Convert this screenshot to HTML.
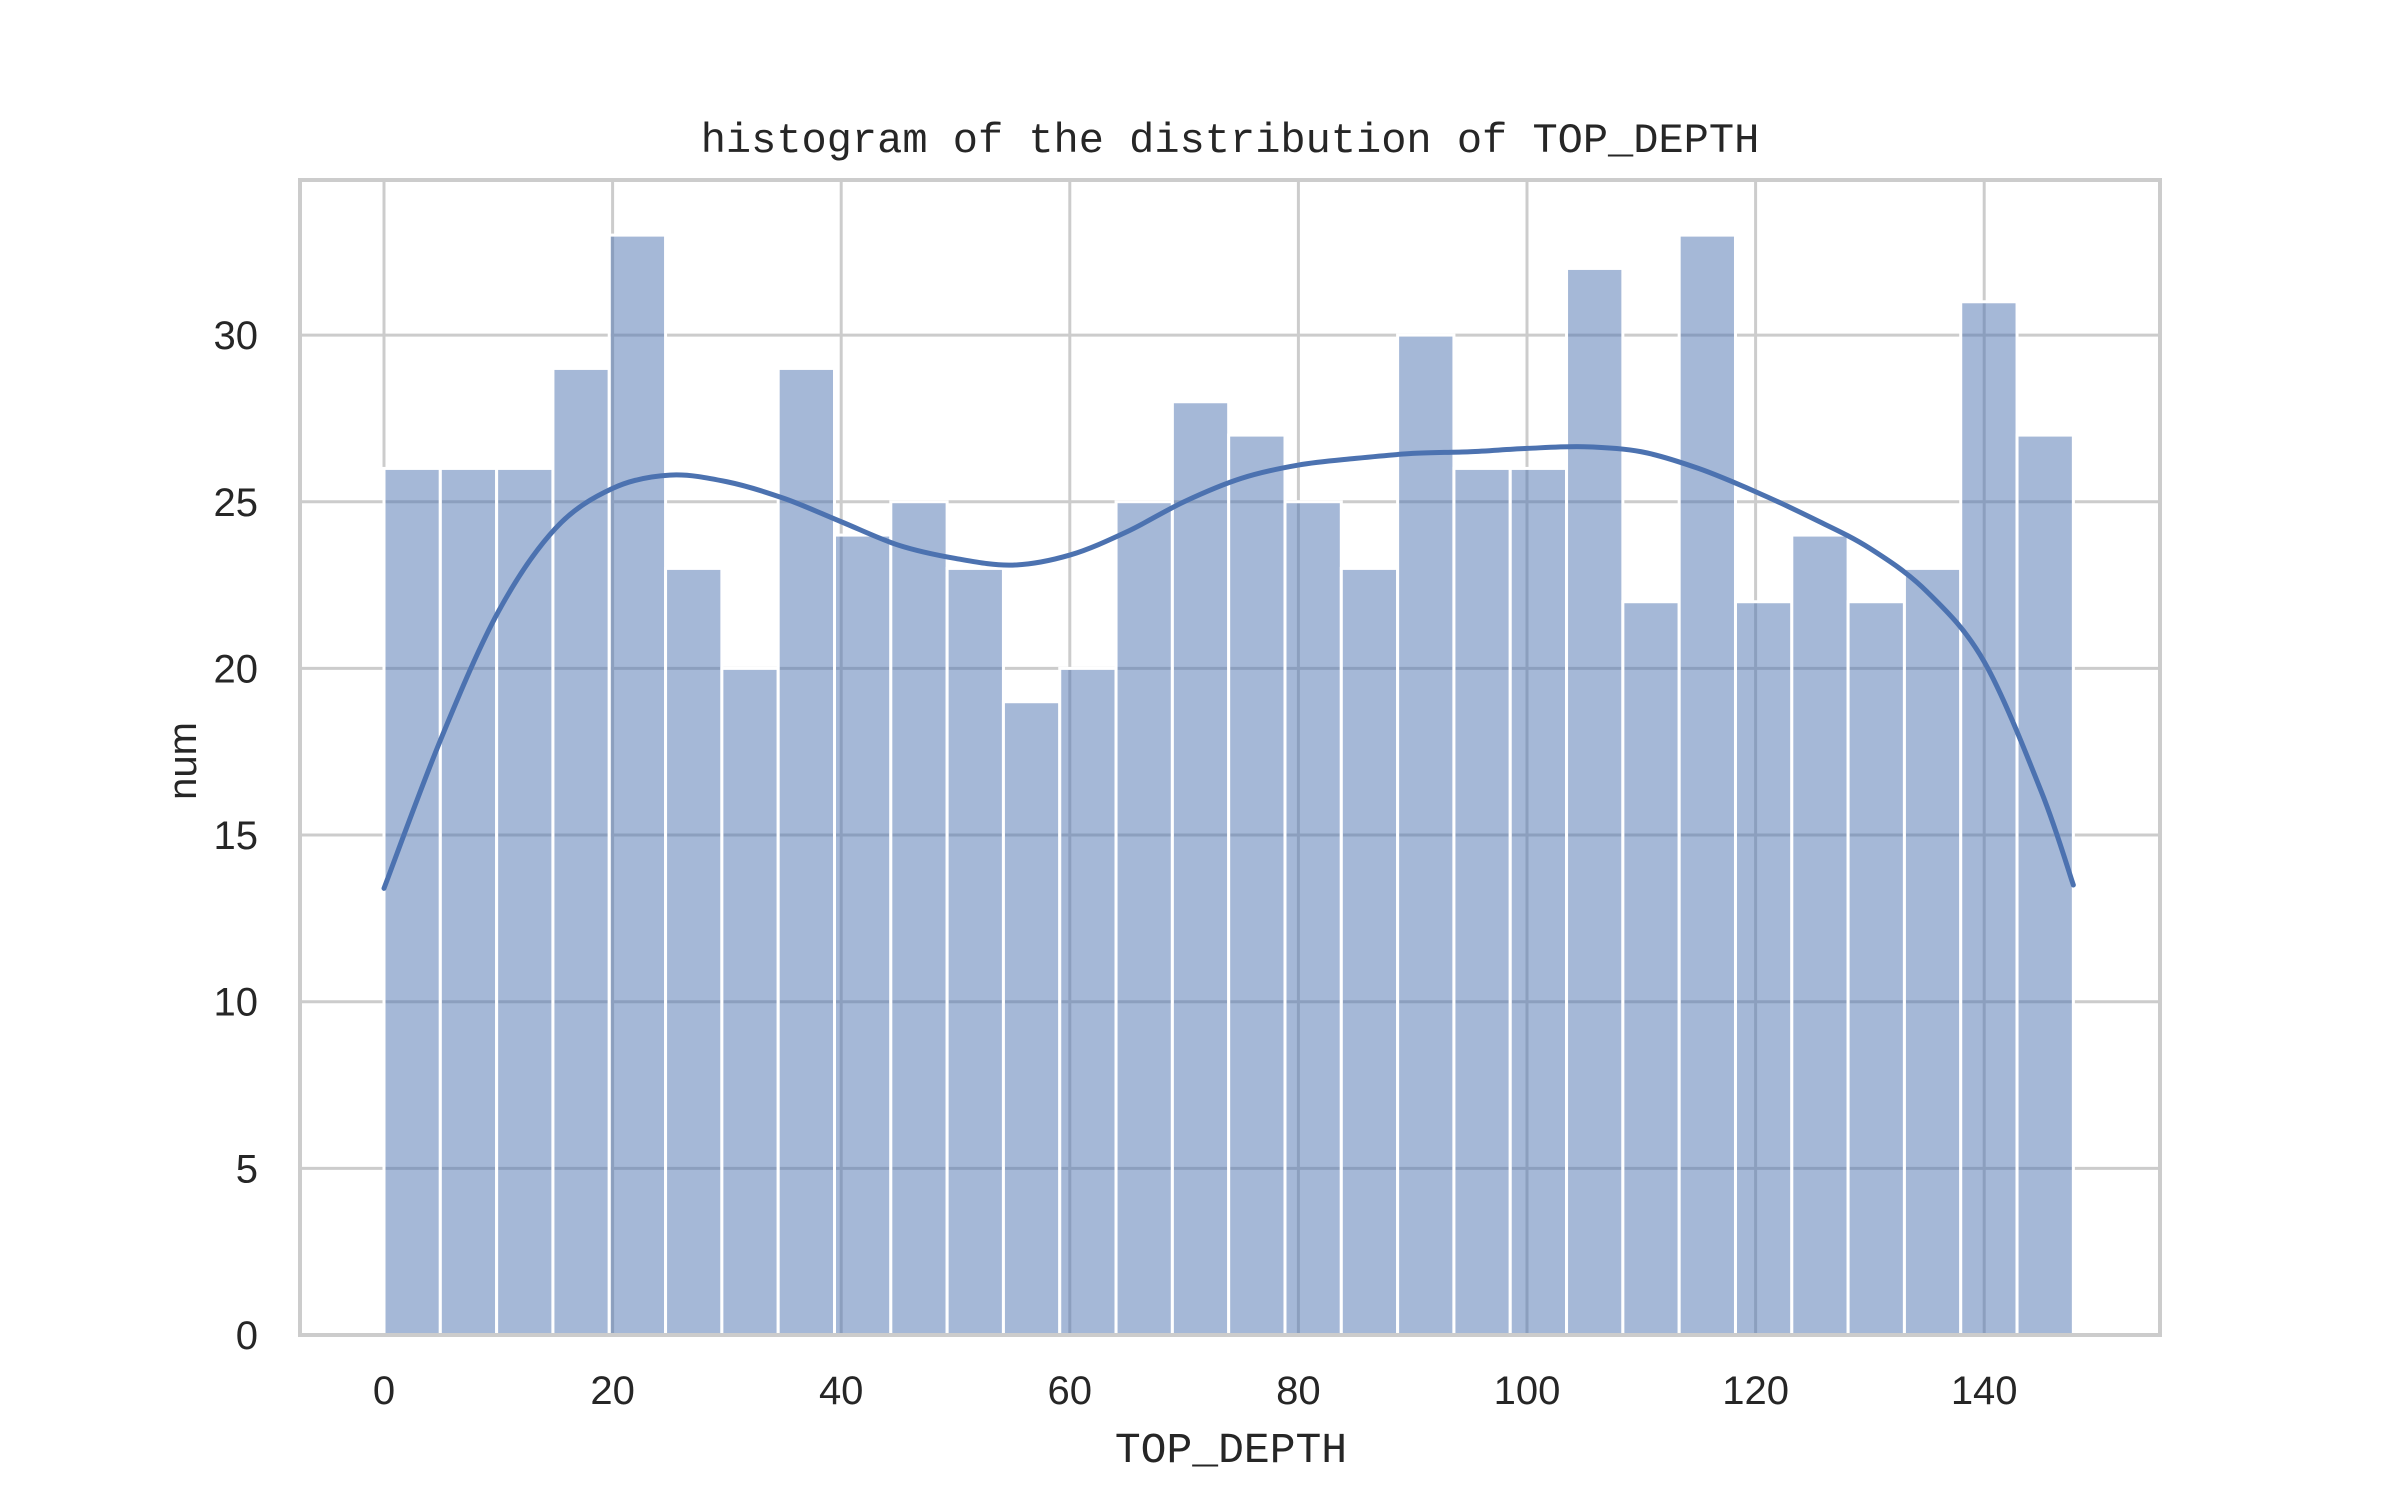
<!DOCTYPE html>
<html><head><meta charset="utf-8"><style>
body{margin:0;background:#fff}
svg text{font-family:"Liberation Sans","WenQuanYi Zen Hei",sans-serif;fill:#262626}
</style></head><body>
<svg width="2400" height="1500" viewBox="0 0 2400 1500">
<g id="grid"></g><g id="bars"></g><path id="kde" fill="none" stroke="#4c72b0" stroke-width="5" stroke-linejoin="round" stroke-linecap="round"/>
<rect x="300" y="180" width="1860" height="1155" fill="none" stroke="#cccccc" stroke-width="4"/>
<g id="ticks"></g>
<text x="1230" y="152" text-anchor="middle" font-size="42" style="font-family:'Liberation Mono',monospace">histogram of the distribution of TOP_DEPTH</text>
<text x="1231" y="1462" text-anchor="middle" font-size="43" style="font-family:'Liberation Mono',monospace">TOP_DEPTH</text>
<text transform="translate(196,761) rotate(-90)" text-anchor="middle" font-size="40">num</text>
</svg>
<script>
const counts=[26,26,26,29,33,23,20,29,24,25,23,19,20,25,28,27,25,23,30,26,26,32,22,33,22,24,22,23,31,27];
const binStart=0, binEnd=147.8;
const kdeX=[0,5,10,15,20,25,30,35,40,45,50,55,60,65,70,75,80,85,90,95,100,105,110,115,120,125,130,135,140,145,147.8];
const kdeY=[13.4,17.9,21.7,24.2,25.4,25.8,25.6,25.1,24.4,23.7,23.3,23.1,23.4,24.1,25,25.7,26.1,26.3,26.45,26.5,26.6,26.65,26.5,26,25.3,24.5,23.6,22.3,20.2,16.3,13.5];
const xTicks=[0,20,40,60,80,100,120,140];
const yTicks=[0,5,10,15,20,25,30];
const NS="http://www.w3.org/2000/svg";
const X=v=>384+v*11.43, Y=v=>1335-v*33.33;
function mk(t,p,a){const e=document.createElementNS(NS,t);for(const k in a)e.setAttribute(k,a[k]);p.appendChild(e);return e;}
const g=document.getElementById('grid'),b=document.getElementById('bars'),tk=document.getElementById('ticks');
xTicks.forEach(v=>{const l=mk('line',g,{x1:X(v),x2:X(v),y1:180,y2:1335,stroke:'#cccccc','stroke-width':3});


const t=mk('text',tk,{x:X(v),y:1404,'text-anchor':'middle','font-size':40});t.textContent=v;

});
yTicks.forEach(v=>{const l=mk('line',g,{x1:300,x2:2160,y1:Y(v),y2:Y(v),stroke:'#cccccc','stroke-width':3});


const t=mk('text',tk,{x:258,y:Y(v)+14,'text-anchor':'end','font-size':40});t.textContent=v;

});
const w=(binEnd-binStart)/counts.length;
counts.forEach((c,i)=>{const x0=X(binStart+i*w),x1=X(binStart+(i+1)*w);
const r=mk('rect',b,{x:x0,y:Y(c),width:x1-x0,height:Y(0)-Y(c),fill:'#4c72b0','fill-opacity':0.5,stroke:'#ffffff','stroke-width':3});

});
const pts=kdeX.map((x,i)=>[X(x),Y(kdeY[i])]);
let d='M'+pts[0][0]+','+pts[0][1];
for(let i=0;i<pts.length-1;i++){const p0=pts[i-1]||pts[i],p1=pts[i],p2=pts[i+1],p3=pts[i+2]||p2;
d+=` C${p1[0]+(p2[0]-p0[0])/6},${p1[1]+(p2[1]-p0[1])/6} ${p2[0]-(p3[0]-p1[0])/6},${p2[1]-(p3[1]-p1[1])/6} ${p2[0]},${p2[1]}`;}
document.getElementById('kde').setAttribute('d',d);
</script>
</body></html>
